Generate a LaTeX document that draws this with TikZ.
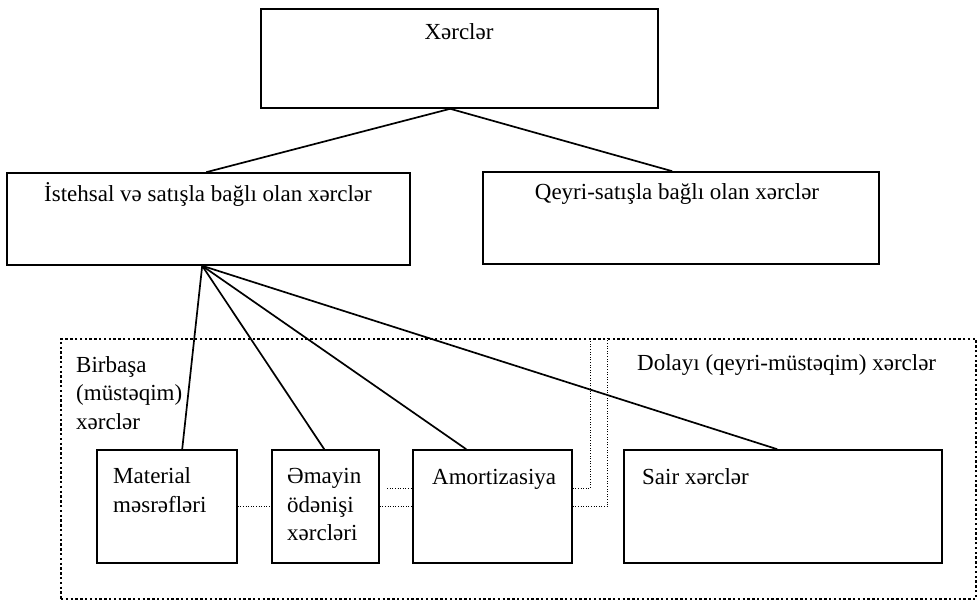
\documentclass[tikz,border=0pt]{standalone}
\usepackage{fontspec}
\setmainfont{Liberation Serif}
\usetikzlibrary{calc}
\newcommand{\fs}{\fontsize{23}{28.5}\selectfont}
\begin{document}
\begin{tikzpicture}[x=1pt,y=-1pt,
  box/.style={draw, line width=1.6pt, inner sep=0, rectangle},
  grpbox/.style={draw, line width=1.5pt, dash pattern=on 2.4pt off 2.4pt, inner sep=0, rectangle},
  txt/.style={inner sep=0, font=\fs},
  mtxt/.style={inner sep=0, font=\fs, align=left, anchor=north west},
  conn/.style={line width=1.7pt},
  dotline/.style={line width=0.9pt, dash pattern=on 1pt off 1.6pt}]
\useasboundingbox (0,0) rectangle (979,601);
% group frame
\node[grpbox, minimum width=915, minimum height=260] (grp) at (518.5,469) {};
% boxes
\node[box, minimum width=397, minimum height=99] (top) at (459.5,58.5) {};
\node[box, minimum width=403, minimum height=92] (left) at (208.5,219) {};
\node[box, minimum width=396, minimum height=92] (right) at (681,218) {};
\node[box, minimum width=140, minimum height=113] (mat) at (167,506.5) {};
\node[box, minimum width=107, minimum height=113] (emay) at (325.5,506.5) {};
\node[box, minimum width=159, minimum height=113] (amort) at (492.5,506.5) {};
\node[box, minimum width=318, minimum height=113] (sair) at (783,506.5) {};
% texts
\node[txt, anchor=base] (tx0) at (459,39.5) {Xərclər};
\node[txt, anchor=base] (tx1) at (208,202) {İstehsal və satışla bağlı olan xərclər};
\node[txt, anchor=base] (tx2) at (677,200) {Qeyri-satışla bağlı olan xərclər};
\node[txt, anchor=base west] (tx3) at (637,370) {Dolayı (qeyri-müstəqim) xərclər};
\node[mtxt] (tx4) at (76,352) {\strut Birbaşa\\(müstəqim)\\xərclər};
\node[mtxt] (tx5) at (113,463.5) {\strut Material\\məsrəfləri};
\node[mtxt] (tx6) at (287,463.5) {\strut Əmayin\\ödənişi\\xərcləri};
\node[mtxt] (tx7) at (432,464) {\strut Amortizasiya};
\node[mtxt] (tx8) at (642,464) {\strut Sair xərclər};
% connectors
\coordinate (ap) at ($(top.south west)+(190,0)$);
\coordinate (lp) at ($(left.south west)+(196,0)$);
\draw[conn] (ap) -- ($(left.north west)+(200,0)$);
\draw[conn] (ap) -- ($(right.north west)+(190,0)$);
\draw[conn] (lp) -- ($(mat.north west)+(86,0)$);
\draw[conn] (lp) -- ($(emay.north west)+(53,0)$);
\draw[conn] (lp) -- ($(amort.north west)+(54,0)$);
\draw[conn] (lp) -- ($(sair.north west)+(154,0)$);
% dotted links
\draw[dotline] (mat.east) -- (emay.west);
\draw[dotline] (emay.east) -- (amort.west);
\draw[dotline] ($(amort.west)+(-25,-18.5)$) -- ($(amort.west)+(0,-18.5)$);
\coordinate (d1) at ($(amort.east)+(18,-18.5)$);
\coordinate (d2) at ($(amort.east)+(35,0)$);
\draw[dotline] ($(amort.east)+(0,-18.5)$) -- (d1) -- (d1 |- grp.north);
\draw[dotline] (amort.east) -- (d2) -- (d2 |- grp.north);
\end{tikzpicture}
\end{document}
